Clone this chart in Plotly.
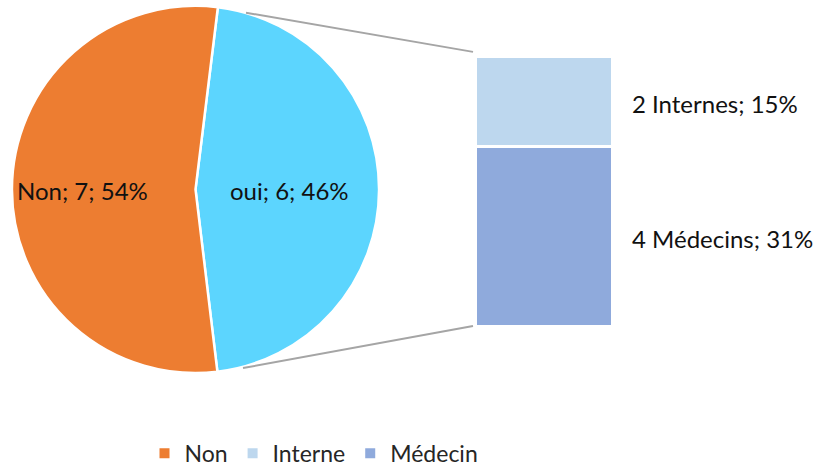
import plotly.graph_objects as go

pie_labels = ["oui", "Non"]
pie_values = [6, 7]
pie_colors = ["#5CD5FE", "#ED7D31"]

bar_labels = ["Médecin", "Interne"]
bar_names = ["Médecins", "Internes"]
bar_values = [4, 2]
bar_colors = ["#8FAADC", "#BDD7EE"]

legend_labels = ["Non", "Interne", "Médecin"]
legend_colors = ["#ED7D31", "#BDD7EE", "#8FAADC"]

W, H = 821, 475
FONT = "Lato"
TXT = "#111111"
total = sum(pie_values)

def px(x):
    return x / W

def py(y):
    return (H - y) / H

# pie geometry (pixels)
CX, CY, R = 195.5, 193.5, 184.5
PAD = 3

fig = go.Figure()

fig.add_trace(go.Pie(
    labels=pie_labels, values=pie_values, sort=False, direction="clockwise",
    rotation=7, marker=dict(colors=pie_colors, line=dict(color="white", width=2.5)),
    textinfo="none",
    domain=dict(x=[px(CX - R - PAD), px(CX + R + PAD)], y=[py(CY + R + PAD), py(CY - R - PAD)]),
    showlegend=False, hoverinfo="label+value+percent",
))

for lab, v, c in zip(bar_labels, bar_values, bar_colors):
    fig.add_trace(go.Bar(
        x=[0], y=[v], name=lab, width=1,
        marker=dict(color=c, line=dict(color="white", width=2.5)),
        showlegend=False, xaxis="x", yaxis="y",
    ))

for lab, c in zip(legend_labels, legend_colors):
    fig.add_trace(go.Scatter(
        x=[None], y=[None], mode="markers", name=lab,
        marker=dict(symbol="square", size=10, color=c),
        xaxis="x", yaxis="y",
    ))

annotations = []
# pie labels
label_offsets = {"oui": 0.51, "Non": -0.61}
for lab, v in zip(pie_labels, pie_values):
    annotations.append(dict(
        x=px(CX + label_offsets[lab] * R), xref="paper", xanchor="center",
        y=py(CY + 1), yref="paper", yanchor="middle",
        text=f"{lab}; {v}; {round(100 * v / total)}%",
        showarrow=False, font=dict(family=FONT, size=24, color=TXT),
    ))

cum = 0
for name, v in zip(bar_names, bar_values):
    mid = cum + v / 2
    cum += v
    annotations.append(dict(
        x=px(630), xref="paper", xanchor="left",
        y=mid, yref="y", yanchor="middle", yshift=-2,
        text=f"{v} {name}; {round(100 * v / total)}%",
        showarrow=False, font=dict(family=FONT, size=24, color=TXT),
    ))

line_style = dict(color="#A5A5A5", width=2)
shapes = [
    dict(type="line", xref="paper", yref="paper", x0=px(246), y0=py(13), x1=px(473), y1=py(53), line=line_style),
    dict(type="line", xref="paper", yref="paper", x0=px(243), y0=py(376), x1=px(473), y1=py(333), line=line_style),
]

fig.update_layout(
    width=W, height=H, margin=dict(l=0, r=0, t=0, b=0),
    paper_bgcolor="white", plot_bgcolor="white",
    barmode="stack", bargap=0,
    xaxis=dict(domain=[px(476), px(612)], range=[-0.5, 0.5], visible=False, fixedrange=True),
    yaxis=dict(domain=[py(334), py(58)], range=[0, sum(bar_values)], visible=False, fixedrange=True),
    legend=dict(orientation="h", x=px(314), xanchor="center", y=py(463), yanchor="middle",
                font=dict(family=FONT, size=23, color="#262626"), itemwidth=30,
                traceorder="normal"),
    annotations=annotations, shapes=shapes,
    font=dict(family=FONT),
)

fig.write_html("out.html")
